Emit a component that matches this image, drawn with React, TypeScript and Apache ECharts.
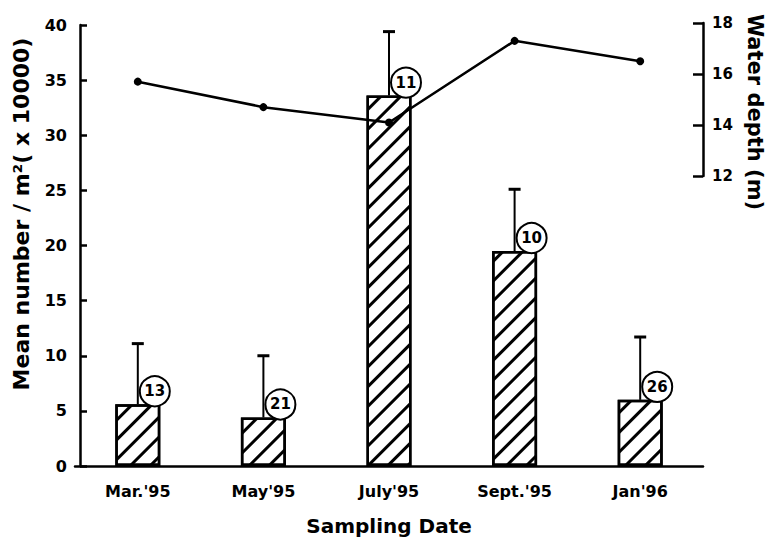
import React, { useEffect, useRef } from "react";
import * as echarts from "echarts";

const categories = ["Mar.'95", "May'95", "July'95", "Sept.'95", "Jan'96"];
const meanNumber = [5.6, 4.4, 33.6, 19.5, 6.0];
const errorUpper = [11.1, 10.0, 39.4, 25.1, 11.7];
const sampleCounts = ["13", "21", "11", "10", "26"];
const waterDepth = [15.7, 14.7, 14.1, 17.3, 16.5];
const leftTitle = "Mean number / m²( x 10000)";
const rightTitle = "Water depth (m)";
const xTitle = "Sampling Date";

const FONT = "DejaVu Sans";

export default function App() {
  const ref = useRef<HTMLDivElement>(null);
  useEffect(() => {
    if (!ref.current) return;
    const chart = echarts.init(ref.current, null, { renderer: "svg" });
    const errData = categories.map((_, i) => [i, meanNumber[i], errorUpper[i], sampleCounts[i]]);
    chart.setOption({
      animation: false,
      backgroundColor: "#fff",
      textStyle: { fontFamily: FONT, fontWeight: "bold", color: "#000" },
      grid: [
        { left: 75, right: 65, top: 25, bottom: 70 },
        { left: 75, right: 65, top: 23, height: 153 },
      ],
      graphic: [
        {
          type: "text",
          x: 21,
          y: 214,
          rotation: Math.PI / 2,
          style: {
            text: leftTitle,
            fill: "#000",
            font: `bold 22px "${FONT}"`,
            align: "center",
            verticalAlign: "middle",
          },
        },
        {
          type: "text",
          x: 755,
          y: 112,
          rotation: -Math.PI / 2,
          style: {
            text: rightTitle,
            fill: "#000",
            font: `bold 21px "${FONT}"`,
            align: "center",
            verticalAlign: "middle",
          },
        },
      ],
      xAxis: [
        {
          type: "category",
          gridIndex: 0,
          data: categories,
          axisLine: { lineStyle: { color: "#000", width: 2.5 } },
          axisTick: { show: false },
          axisLabel: { color: "#000", fontSize: 16, fontWeight: "bold", fontFamily: FONT, margin: 17 },
          name: xTitle,
          nameLocation: "middle",
          nameGap: 50,
          nameTextStyle: { color: "#000", fontSize: 20, fontWeight: "bold", fontFamily: FONT },
        },
        {
          type: "category",
          gridIndex: 1,
          data: categories,
          show: false,
        },
      ],
      yAxis: [
        {
          type: "value",
          gridIndex: 0,
          min: 0,
          max: 40,
          interval: 5,
          offset: -5,
          splitLine: { show: false },
          axisLine: { show: true, lineStyle: { color: "#000", width: 2.5 } },
          axisTick: { show: true, inside: true, length: 7, lineStyle: { color: "#000", width: 2.5 } },
          axisLabel: { color: "#000", fontSize: 16, fontWeight: "bold", fontFamily: FONT, margin: 13 },
        },
        {
          type: "value",
          gridIndex: 1,
          position: "right",
          min: 12,
          max: 18,
          interval: 2,
          splitLine: { show: false },
          axisLine: { show: true, lineStyle: { color: "#000", width: 2.5 } },
          axisTick: { show: true, inside: true, length: 10, lineStyle: { color: "#000", width: 2.5 } },
          axisLabel: { color: "#000", fontSize: 15, fontWeight: "bold", fontFamily: FONT, margin: 9 },
        },
      ],
      series: [
        {
          type: "bar",
          xAxisIndex: 0,
          yAxisIndex: 0,
          data: meanNumber,
          barWidth: 45,
          z: 2,
          itemStyle: {
            color: "#fff",
            borderColor: "#000",
            borderWidth: 2.5,
            decal: {
              symbol: "rect",
              symbolSize: 1,
              dashArrayX: [[1, 0]],
              dashArrayY: [3, 11],
              rotation: -Math.PI / 4,
              color: "#000",
              backgroundColor: "#fff",
            },
          },
        },
        {
          type: "custom",
          xAxisIndex: 0,
          yAxisIndex: 0,
          z: 3,
          data: errData,
          renderItem: (params: any, api: any) => {
            const base = api.coord([api.value(0), api.value(1)]);
            const top = api.coord([api.value(0), api.value(2)]);
            const label = sampleCounts[params.dataIndex];
            const cx = base[0] + 17;
            const cy = base[1] - 13;
            return {
              type: "group",
              children: [
                {
                  type: "line",
                  shape: { x1: base[0], y1: base[1], x2: top[0], y2: top[1] },
                  style: { stroke: "#000", lineWidth: 2 },
                },
                {
                  type: "line",
                  shape: { x1: top[0] - 6, y1: top[1], x2: top[0] + 6, y2: top[1] },
                  style: { stroke: "#000", lineWidth: 3 },
                },
                {
                  type: "circle",
                  shape: { cx, cy, r: 15 },
                  style: { fill: "#fff", stroke: "#000", lineWidth: 2 },
                },
                {
                  type: "text",
                  x: cx,
                  y: cy,
                  style: {
                    text: label,
                    fill: "#000",
                    font: `bold 15px "${FONT}"`,
                    align: "center",
                    verticalAlign: "middle",
                  },
                },
              ],
            };
          },
        },
        {
          type: "line",
          xAxisIndex: 1,
          yAxisIndex: 1,
          data: waterDepth,
          z: 5,
          symbol: "circle",
          symbolSize: 8,
          itemStyle: { color: "#000" },
          lineStyle: { color: "#000", width: 2.5 },
        },
      ],
    });
    return () => chart.dispose();
  }, []);
  return (
    <div
      ref={ref}
      style={{ position: "absolute", left: 0, top: 0, width: 768, height: 541 }}
    />
  );
}
